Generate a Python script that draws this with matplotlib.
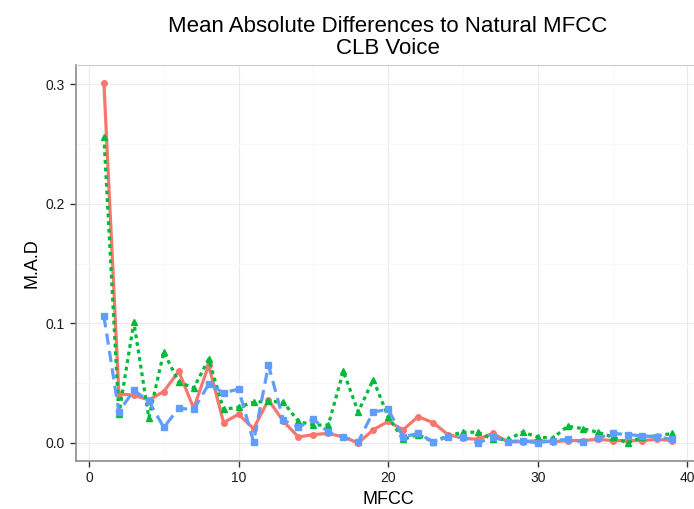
import numpy as np
import matplotlib
matplotlib.use('Agg')
import matplotlib.pyplot as plt

plt.rcParams['font.family'] = ['Liberation Sans', 'DejaVu Sans']

mfcc = np.arange(1, 40)
red = [0.301, 0.041, 0.040, 0.036, 0.043, 0.060, 0.029, 0.065, 0.017, 0.024,
       0.012, 0.036, 0.018, 0.005, 0.007, 0.008, 0.005, 0.000, 0.011, 0.018,
       0.011, 0.022, 0.017, 0.007, 0.004, 0.003, 0.008, 0.001, 0.001, 0.002,
       0.001, 0.002, 0.002, 0.003, 0.002, 0.002, 0.002, 0.003, 0.002]
green = [0.256, 0.024, 0.101, 0.021, 0.076, 0.051, 0.046, 0.070, 0.028, 0.030,
         0.034, 0.035, 0.034, 0.018, 0.015, 0.015, 0.060, 0.026, 0.053, 0.022,
         0.003, 0.007, 0.001, 0.006, 0.009, 0.009, 0.003, 0.003, 0.009, 0.005,
         0.004, 0.014, 0.012, 0.009, 0.005, 0.000, 0.005, 0.006, 0.008]
blue = [0.106, 0.026, 0.044, 0.035, 0.013, 0.029, 0.028, 0.049, 0.042, 0.045,
        0.001, 0.065, 0.019, 0.013, 0.020, 0.009, 0.005, 0.001, 0.026, 0.028,
        0.005, 0.008, 0.001, 0.005, 0.005, 0.000, 0.005, 0.001, 0.002, 0.000,
        0.002, 0.003, 0.001, 0.004, 0.008, 0.007, 0.006, 0.005, 0.003]

x_ticks = [0, 10, 20, 30, 40]
y_ticks = [0.0, 0.1, 0.2, 0.3]
y_labels = ['0.0', '0.1', '0.2', '0.3']

fig = plt.figure(figsize=(6.94, 5.09), dpi=100)
# panel runs a bit past the right edge, like the cropped original
ax = fig.add_axes([0.1088, 0.0943, 0.901, 0.778])

ax.plot(mfcc, red, color='#F8766D', lw=2.3, ls='-', marker='o', ms=4, zorder=3)
ax.plot(mfcc, green, color='#00BA38', lw=2.3, ls=(0, (1.2, 1.2)), marker='^', ms=5, zorder=4)
ax.plot(mfcc, blue, color='#619CFF', lw=2.3, ls=(0, (3.5, 2)), marker='s', ms=4.5, zorder=5)

ax.set_xlim(-0.9, 40.9)
ax.set_ylim(-0.0151, 0.3162)
ax.set_xticks(x_ticks)
ax.set_yticks(y_ticks)
ax.set_yticklabels(y_labels)
ax.set_xticks([5, 15, 25, 35], minor=True)
ax.set_yticks([0.05, 0.15, 0.25], minor=True)
ax.grid(which='major', color='#EBEBEB', lw=0.8)
ax.grid(which='minor', color='#F7F7F7', lw=0.6)
ax.set_axisbelow(True)
ax.tick_params(which='minor', length=0)
ax.tick_params(which='major', length=4, width=1, color='#333333', labelsize=10, labelcolor='#1a1a1a')

for side in ['top', 'right']:
    ax.spines[side].set_color('#cccccc')
    ax.spines[side].set_linewidth(0.8)
for side in ['left', 'bottom']:
    ax.spines[side].set_color('#8c8c8c')
    ax.spines[side].set_linewidth(1.2)

ax.set_xlabel('MFCC', fontsize=13)
ax.set_ylabel('M.A.D', fontsize=13)
fig.text(0.559, 0.926, 'Mean Absolute Differences to Natural MFCC\nCLB Voice',
         ha='center', va='center', fontsize=16, linespacing=1.1)

fig.savefig('out.png', dpi=100)
